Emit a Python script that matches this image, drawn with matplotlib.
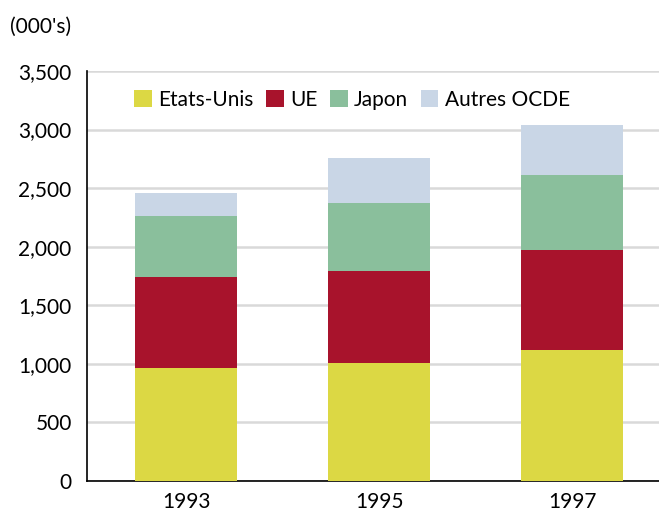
import numpy as np
import matplotlib; matplotlib.use('Agg')
import matplotlib.pyplot as plt

years = ['1993', '1995', '1997']
etats_unis = [963, 1005, 1116]
ue = [775, 784, 852]
japon = [528, 580, 648]
autres = [196, 391, 426]

series = [('Etats-Unis', etats_unis, '#dcd844'),
          ('UE', ue, '#a8132c'),
          ('Japon', japon, '#8abf9c'),
          ('Autres OCDE', autres, '#c9d6e6')]

plt.rcParams['font.family'] = ['Lato', 'DejaVu Sans']
fig = plt.figure(figsize=(6.59, 5.11), dpi=100)
ax = fig.add_axes([87/659, 30/511, (659-87)/659, 410/511])

x = np.arange(len(years))
bottom = np.zeros(len(years))
for name, vals, col in series:
    ax.bar(x, vals, 0.53, bottom=bottom, color=col, label=name, zorder=3)
    bottom += np.array(vals)

ax.set_ylim(0, 3500)
ax.set_xlim(-0.513, 2.45)
ax.set_yticks(range(0, 3501, 500))
ax.set_yticklabels([f'{v:,}' for v in range(0, 3501, 500)])
ax.set_xticks(x)
ax.set_xticklabels(years)
ax.tick_params(axis='both', length=0, labelsize=15, colors='black')
ax.tick_params(axis='y', pad=11)
ax.tick_params(axis='x', pad=8)
ax.yaxis.grid(True, color='#d9d9d9', lw=1.8, zorder=0)
ax.spines['top'].set_visible(False)
ax.spines['right'].set_visible(False)
ax.spines['left'].set_linewidth(1.2)
ax.spines['bottom'].set_linewidth(1.2)

ax.legend(loc='upper left', bbox_to_anchor=(0.05, 1.0), ncol=4, frameon=False,
          fontsize=15, handlelength=0.85, handleheight=0.85, handletextpad=0.3,
          columnspacing=0.6)

fig.text(10/659, 1 - 27/511, "(000's)", fontsize=15, va='center', ha='left')

fig.savefig('out.png', dpi=100)
